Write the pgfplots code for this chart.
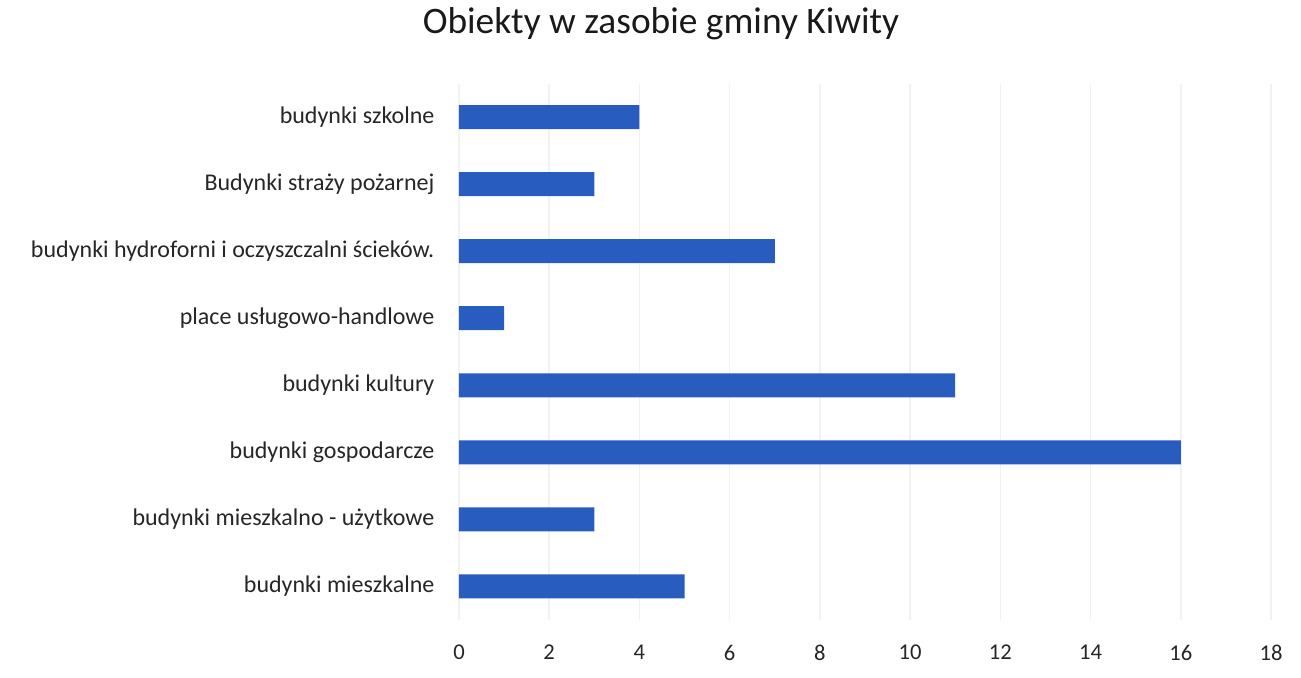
\documentclass[border=0pt]{standalone}
\usepackage{fontspec}
\setmainfont{Carlito}
\usepackage{pgfplots}
\pgfplotsset{compat=1.18}
\definecolor{barblue}{RGB}{40,92,190}
\begin{document}
\begin{tikzpicture}
\useasboundingbox (-229.5pt,-28.5pt) rectangle (421pt,310pt);
\begin{axis}[at={(0pt,0pt)},anchor=south west,
  scale only axis,width=406pt,height=268.25pt,
  xmin=0,xmax=18,ymin=-0.5,ymax=7.5,
  xtick={0,2,...,18},ytick={0,...,7},
  yticklabels={budynki mieszkalne,budynki mieszkalno - użytkowe,budynki gospodarcze,budynki kultury,place usługowo-handlowe,budynki hydroforni i oczyszczalni ścieków.,Budynki straży pożarnej,budynki szkolne},
  xmajorgrids,grid style={black!5,line width=0.8pt},
  axis line style={draw=none},major tick style={draw=none},
  xbar,bar width=12pt,
  tick label style={text=black!85},
  /pgf/number format/assume math mode=true,
  xticklabel style={anchor=north,yshift=-9pt,font=\fontsize{11.3}{13}\selectfont},
  yticklabel style={anchor=east,xshift=-4.5pt,font=\fontsize{12}{14}\selectfont},
]
\addplot[fill=barblue,draw=none] coordinates {(5,0) (3,1) (16,2) (11,3) (1,4) (7,5) (3,6) (4,7)};
\end{axis}
\node[anchor=base,font=\fontsize{18.7}{22}\selectfont,text=black!90] at (101pt,293.5pt) {Obiekty w zasobie gminy Kiwity};
\end{tikzpicture}
\end{document}
